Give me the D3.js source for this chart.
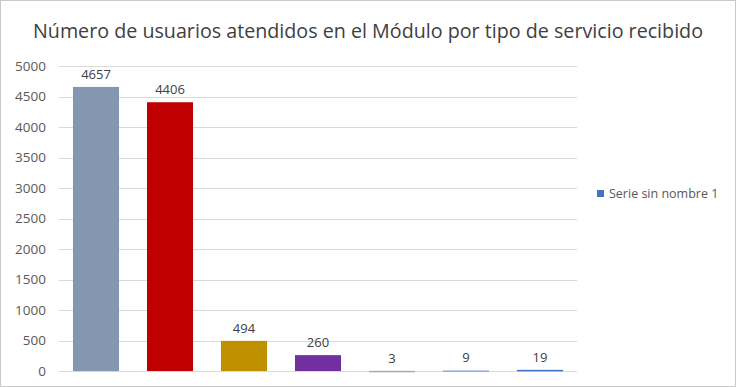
<!DOCTYPE html>
<html>
<head>
<meta charset="utf-8">
<script src="https://cdn.jsdelivr.net/npm/d3@7"></script>
<style>
  body { margin: 0; background: #fff; }
  text { font-family: "Open Sans", "Liberation Sans", sans-serif; }
</style>
</head>
<body>
<div id="chart"></div>
<script>
var width = 736,
    height = 387;

var categories = ["A", "B", "C", "D", "E", "F", "G"];
var values = [4657, 4406, 494, 260, 3, 9, 19];
var colors = ["#8497B0", "#C00000", "#BF9000", "#7030A0", "#AEAA9A", "#8EA9DB", "#4472C4"];
var yTicks = [0, 500, 1000, 1500, 2000, 2500, 3000, 3500, 4000, 4500, 5000];
var title = "Número de usuarios atendidos en el Módulo por tipo de servicio recibido";
var seriesName = "Serie sin nombre 1";

var margin = { top: 66, left: 59, right: 159, bottom: 16 };

var svg = d3.select("#chart").append("svg")
    .attr("width", width)
    .attr("height", height);

svg.append("rect")
    .attr("x", 0.5).attr("y", 0.5)
    .attr("width", width - 1).attr("height", height - 1)
    .attr("fill", "#fff")
    .attr("stroke", "#c8c8c8");

var x = d3.scaleBand()
    .domain(categories)
    .range([margin.left, width - margin.right])
    .paddingInner(0.378)
    .paddingOuter(0.189);

var y = d3.scaleLinear()
    .domain([0, 5000])
    .range([height - margin.bottom, margin.top]);

// gridlines
svg.append("g")
    .selectAll("line")
    .data(yTicks)
    .enter().append("line")
    .attr("x1", margin.left)
    .attr("x2", width - margin.right)
    .attr("y1", function (d) { return Math.round(y(d)) + 0.5; })
    .attr("y2", function (d) { return Math.round(y(d)) + 0.5; })
    .attr("stroke", "#d9d9d9");

// y axis labels
var yAxis = d3.axisLeft(y).tickValues(yTicks).tickFormat(d3.format("d")).tickSize(0).tickPadding(13);
var ya = svg.append("g")
    .attr("transform", "translate(" + margin.left + ",0)")
    .call(yAxis);
ya.select(".domain").remove();
ya.selectAll("text")
    .attr("fill", "#595959")
    .style("font-size", "13.5px");

// bars
svg.append("g")
    .selectAll("rect")
    .data(values)
    .enter().append("rect")
    .attr("x", function (d, i) { return x(categories[i]); })
    .attr("width", x.bandwidth())
    .attr("y", function (d) { return y(d); })
    .attr("height", function (d) { return Math.max(1.5, y(0) - y(d)); })
    .attr("fill", function (d, i) { return colors[i]; });

// value labels
svg.append("g")
    .selectAll("text")
    .data(values)
    .enter().append("text")
    .attr("x", function (d, i) { return x(categories[i]) + x.bandwidth() / 2; })
    .attr("y", function (d) { return y(d) - 8; })
    .attr("text-anchor", "middle")
    .attr("fill", "#404040")
    .style("font-size", "13px")
    .text(function (d) { return d; });

// title
svg.append("text")
    .attr("x", 368)
    .attr("y", 38)
    .attr("text-anchor", "middle")
    .attr("fill", "#404040")
    .style("font-size", "19.7px")
    .text(title);

// legend
var legend = svg.append("g").attr("transform", "translate(597,190)");
legend.append("rect")
    .attr("width", 7).attr("height", 7)
    .attr("fill", "#4472C4");
legend.append("text")
    .attr("x", 12).attr("y", 7.5)
    .attr("fill", "#595959")
    .style("font-size", "12.5px")
    .text(seriesName);
</script>
</body>
</html>
